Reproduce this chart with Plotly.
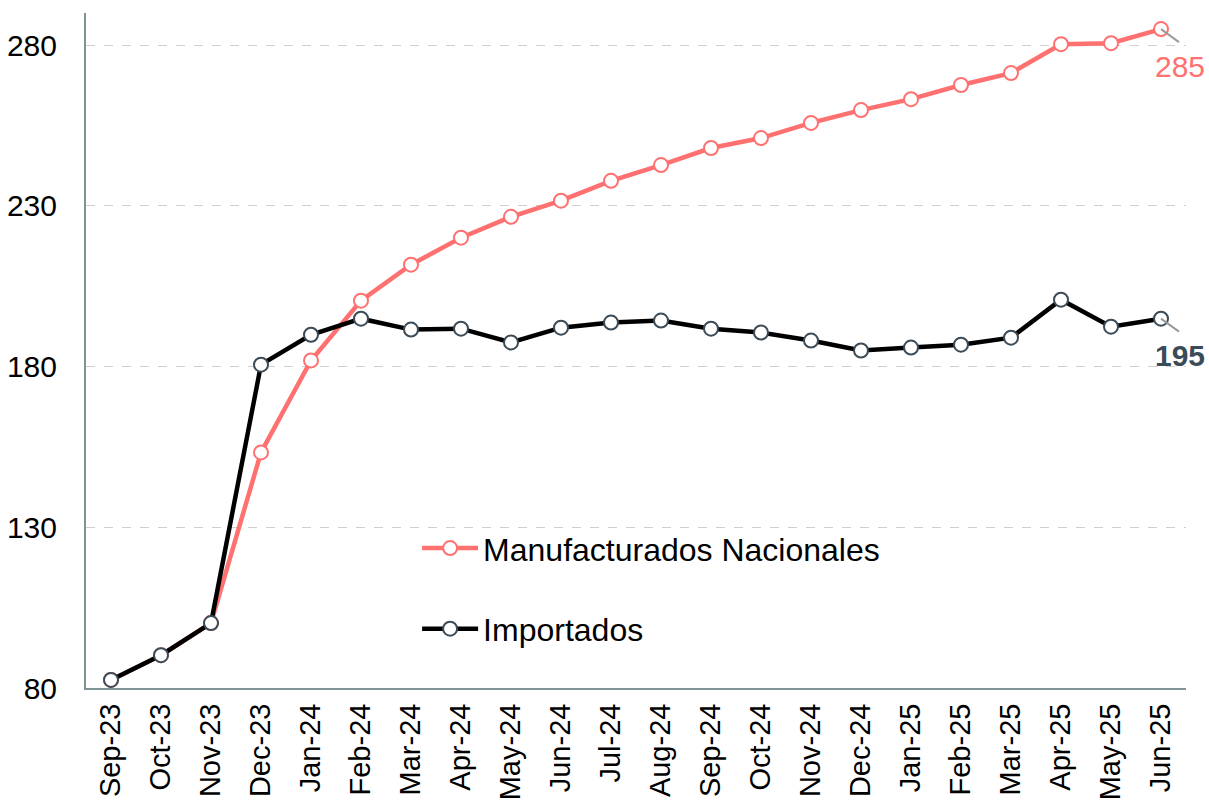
import plotly.graph_objects as go

months = ["Sep-23", "Oct-23", "Nov-23", "Dec-23", "Jan-24", "Feb-24", "Mar-24", "Apr-24",
          "May-24", "Jun-24", "Jul-24", "Aug-24", "Sep-24", "Oct-24", "Nov-24", "Dec-24",
          "Jan-25", "Feb-25", "Mar-25", "Apr-25", "May-25", "Jun-25"]

manufacturados = [82.5, 90.2, 100.2, 153.3, 181.9, 200.5, 211.7, 220.1, 226.6, 231.6, 237.8,
                  242.7, 248.0, 251.1, 255.8, 259.8, 263.2, 267.6, 271.3, 280.3, 280.6, 285.0]
importados = [82.5, 90.2, 100.2, 180.6, 189.9, 194.9, 191.5, 191.8, 187.5, 192.1, 193.7,
              194.3, 191.8, 190.6, 188.1, 185.0, 185.9, 186.8, 189.0, 200.8, 192.4, 194.9]

y_ticks = [80, 130, 180, 230, 280]

RED = "#ff7070"
BLACK = "#000000"
SLATE = "#3b4b57"
FONT = "Liberation Sans, Arial, sans-serif"

fig = go.Figure()
fig.add_trace(go.Scatter(
    x=months, y=manufacturados, name="Manufacturados Nacionales", mode="lines+markers",
    line=dict(color=RED, width=4.5),
    marker=dict(size=14, color="white", line=dict(color=RED, width=2)),
    legendgroup="a",
))
fig.add_trace(go.Scatter(
    x=months, y=importados, name="Importados", mode="lines+markers",
    line=dict(color=BLACK, width=4.5),
    marker=dict(size=14, color="white", line=dict(color=SLATE, width=2)),
    legendgroup="b",
))

last = months[-1]
for val, color, bold in [(manufacturados[-1], RED, False), (importados[-1], SLATE, True)]:
    fig.add_shape(type="line", xref="x", yref="y", xsizemode="pixel", ysizemode="pixel",
                  xanchor=last, yanchor=val, x0=0, x1=18, y0=0, y1=-13,
                  line=dict(color="#9a9a9a", width=2))
    txt = f"{val:.0f}"
    fig.add_annotation(x=last, y=val, xref="x", yref="y", text=f"<b>{txt}</b>" if bold else txt,
                       showarrow=False, xshift=19, yshift=-37,
                       font=dict(family=FONT, size=30, color=color))

fig.update_layout(
    width=1209, height=802,
    margin=dict(l=86, r=23, t=13, b=114, autoexpand=False),
    paper_bgcolor="white", plot_bgcolor="white",
    font=dict(family=FONT, size=28, color="black"),
    showlegend=True,
    legend=dict(x=0.301, y=0.147, xanchor="left", yanchor="middle",
                font=dict(family=FONT, size=32, color="black"),
                traceorder="grouped", tracegroupgap=36, itemwidth=56,
                bgcolor="rgba(0,0,0,0)"),
)
fig.update_xaxes(
    type="category", range=[-0.5, len(months) - 0.5], automargin=False,
    showline=True, linecolor="#7f9494", linewidth=2,
    showgrid=False, ticks="", tickangle=-90, ticklabelstandoff=2,
    tickfont=dict(family=FONT, size=29, color="black"),
)
fig.update_yaxes(
    range=[80, 290], tickvals=y_ticks, automargin=False,
    showline=True, linecolor="#7f9494", linewidth=2,
    showgrid=True, gridcolor="#cfcfcf", griddash="dash", gridwidth=1,
    zeroline=False, ticks="", ticklabelstandoff=21,
    tickfont=dict(family=FONT, size=30, color="black"),
)

fig.write_html("out.html", config={"displayModeBar": False},
               post_script="document.body.style.margin='0';document.body.style.overflow='hidden';")
